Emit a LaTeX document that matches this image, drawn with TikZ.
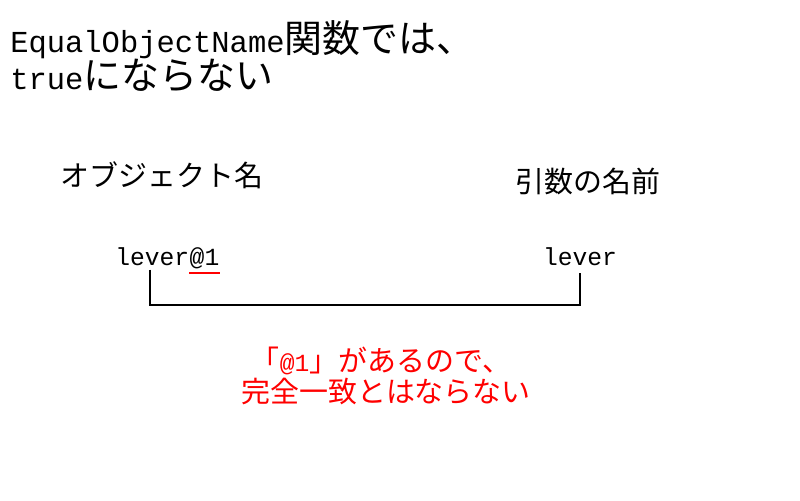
\documentclass[tikz,border=0pt]{standalone}
\usepackage{fontspec}
\setmainfont{Liberation Mono}[Scale=0.85]
\newfontfamily\jp{Noto Sans CJK JP}
\newcommand\bigjp{\jp\fontsize{27}{30}\selectfont}
\newcommand\smalljp{\jp\fontsize{20.6}{24}\selectfont}

\tikzset{
	txt/.style={inner sep=0pt, font=\fontsize{20.6}{24}\selectfont},
	big/.style={inner sep=0pt, font=\fontsize{25.5}{30}\selectfont},
	note/.style={txt, text=red}
}

\begin{document}
\begin{tikzpicture}[x=0.025cm, y=-0.025cm]
		\useasboundingbox (0,0) rectangle (800,500);
		\node[big, anchor=base west] (title1) at (10,52) {EqualObjectName{\bigjp 関数では、}};
		\node[big, anchor=base west] (title2) at (10,89) {true{\bigjp にならない}};
		\node[txt, anchor=base] (objlabel) at (162,186) {\smalljp オブジェクト名};
		\node[txt, anchor=base] (arglabel) at (588,192) {\smalljp 引数の名前};
		\node[txt, anchor=base west] (objname) at (115,265) {lever};
		\node[txt, anchor=base west] (objnum) at (objname.base east) {@1};
		\node[txt, anchor=base] (argname) at (580,265) {lever};
		\draw[red, line width=1.2pt] ([yshift=-3pt]objnum.south west) -- ([yshift=-3pt]objnum.south east);
		\coordinate (bl) at (150,305);
		\coordinate (br) at (580,305);
		\draw[line width=1.2pt] ([yshift=-3pt]objname.south -| bl) -- (bl) -- (br) -- ([yshift=-5pt]argname.south -| br);
		\node[note, anchor=base] (note1) at (381,371) {{\smalljp 「}@1{\smalljp 」があるので、}};
		\node[note, anchor=base] (note2) at (386,402) {\smalljp 完全一致とはならない};
	\end{tikzpicture}
\end{document}
